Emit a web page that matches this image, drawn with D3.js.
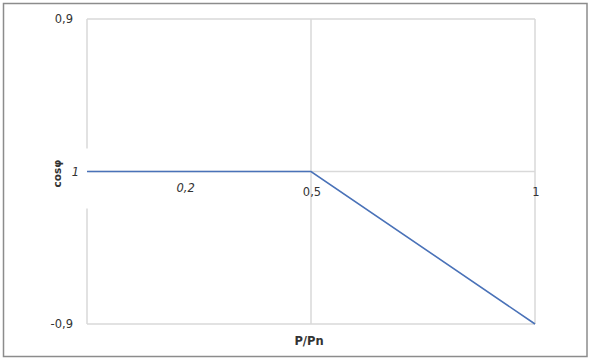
<!DOCTYPE html>
<html>
<head>
<meta charset="utf-8">
<script src="https://cdn.jsdelivr.net/npm/d3@7"></script>
<style>
  html, body { margin: 0; padding: 0; background: #fff; }
  svg { display: block; }
</style>
</head>
<body>
<svg id="chart" width="591" height="360"></svg>
<script>
// ---- data ----
const yCategories = ["0,9", "1", "-0,9"];
const xTickValues = [0.5, 1];
const xTickLabels = ["0,5", "1"];
const seriesP = [0, 0.5, 1];
const seriesCos = ["1", "1", "-0,9"];
const noteLabels = ["0,2"];
const noteValues = [0.22];
const xTitle = "P/Pn";
const yTitle = "cosφ";

// ---- layout ----
const svg = d3.select("#chart");
const W = 591, H = 360;
const mLeft = 87, mRight = 535, mTop = 19, mBottom = 324;
const txt = "#333333";

const x = d3.scaleLinear().domain([0, 1]).range([mLeft, mRight]);
const y = d3.scalePoint().domain(yCategories).range([mTop, mBottom]);

// outer frame
svg.append("rect")
  .attr("x", 3.5).attr("y", 3.5)
  .attr("width", W - 7.5).attr("height", H - 7)
  .attr("fill", "#fff").attr("stroke", "#8c8c8c").attr("stroke-width", 1.5);

const grid = svg.append("g").attr("stroke", "#d9d9d9").attr("stroke-width", 1.5);
grid.selectAll("line.h").data(yCategories).join("line")
  .attr("class", "h")
  .attr("x1", mLeft).attr("x2", mRight)
  .attr("y1", d => y(d)).attr("y2", d => y(d));
grid.selectAll("line.v").data([0].concat(xTickValues)).join("line")
  .attr("class", "v")
  .attr("x1", d => x(d)).attr("x2", d => x(d))
  .attr("y1", mTop).attr("y2", mBottom);

// label background box around the middle category label
svg.append("rect")
  .attr("x", 44).attr("y", y("1") - 23)
  .attr("width", x(0) - 44 + 1.5).attr("height", 60)
  .attr("fill", "#fff");

// y category labels
svg.append("g").selectAll("text").data(yCategories).join("text")
  .attr("x", d => d === "1" ? 79 : 73)
  .attr("y", d => y(d))
  .attr("dy", "0.35em")
  .attr("text-anchor", "end")
  .attr("font-family", "DejaVu Sans, Verdana, sans-serif")
  .attr("font-size", 11.5)
  .attr("font-style", d => d === "1" ? "italic" : "normal")
  .attr("fill", txt)
  .text(d => d);

// x tick labels
svg.append("g").selectAll("text").data(xTickValues).join("text")
  .attr("x", d => x(d) + 1)
  .attr("y", y("1") + 20)
  .attr("dy", "0.35em")
  .attr("text-anchor", "middle")
  .attr("font-family", "DejaVu Sans, Verdana, sans-serif")
  .attr("font-size", 11.5)
  .attr("fill", txt)
  .text((d, i) => xTickLabels[i]);

// italic note label
svg.append("g").selectAll("text").data(noteValues).join("text")
  .attr("x", d => x(d))
  .attr("y", y("1") + 16)
  .attr("dy", "0.35em")
  .attr("text-anchor", "middle")
  .attr("font-family", "DejaVu Sans, Verdana, sans-serif")
  .attr("font-size", 11.5)
  .attr("font-style", "italic")
  .attr("fill", txt)
  .text((d, i) => noteLabels[i]);

// series line
const pts = seriesP.map((p, i) => [p, seriesCos[i]]);
svg.append("path")
  .datum(pts)
  .attr("fill", "none")
  .attr("stroke", "#4a72b8")
  .attr("stroke-width", 1.6)
  .attr("d", d3.line().x(d => x(d[0])).y(d => y(d[1])));

// axis titles
svg.append("text")
  .attr("x", (mLeft + mRight) / 2 - 2)
  .attr("y", 341)
  .attr("dy", "0.35em")
  .attr("text-anchor", "middle")
  .attr("font-family", "DejaVu Sans, Verdana, sans-serif")
  .attr("font-size", 11.5)
  .attr("font-weight", "bold")
  .attr("fill", txt)
  .text(xTitle);

svg.append("text")
  .attr("transform", `translate(57,${y("1") + 2}) rotate(-90)`)
  .attr("dy", "0.35em")
  .attr("text-anchor", "middle")
  .attr("font-family", "DejaVu Sans, Verdana, sans-serif")
  .attr("font-size", 10.5)
  .attr("font-weight", "bold")
  .attr("fill", txt)
  .text(yTitle);
</script>
</body>
</html>
